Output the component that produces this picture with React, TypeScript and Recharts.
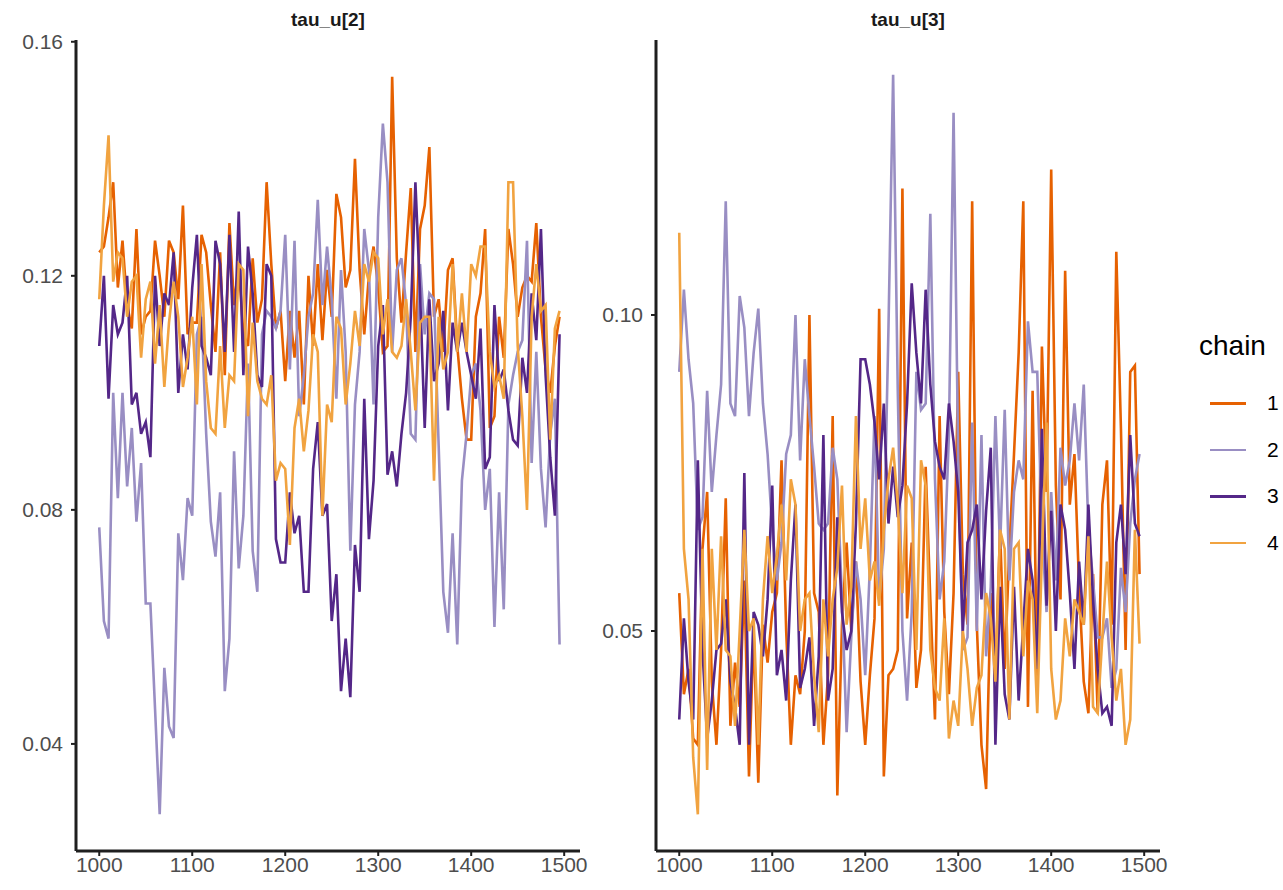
import React from "react";
import { LineChart, Line, XAxis, YAxis } from "recharts";

// iterations (thinned trace), shared by both panels
const iterations = [
  1000, 1005, 1010, 1015, 1020, 1025, 1030, 1035, 1040, 1045,
  1050, 1055, 1060, 1065, 1070, 1075, 1080, 1085, 1090, 1095,
  1100, 1105, 1110, 1115, 1120, 1125, 1130, 1135, 1140, 1145,
  1150, 1155, 1160, 1165, 1170, 1175, 1180, 1185, 1190, 1195,
  1200, 1205, 1210, 1215, 1220, 1225, 1230, 1235, 1240, 1245,
  1250, 1255, 1260, 1265, 1270, 1275, 1280, 1285, 1290, 1295,
  1300, 1305, 1310, 1315, 1320, 1325, 1330, 1335, 1340, 1345,
  1350, 1355, 1360, 1365, 1370, 1375, 1380, 1385, 1390, 1395,
  1400, 1405, 1410, 1415, 1420, 1425, 1430, 1435, 1440, 1445,
  1450, 1455, 1460, 1465, 1470, 1475, 1480, 1485, 1490, 1495,
];

// tau_u[2]
const tau2Chain1 = [
  0.124, 0.125, 0.130, 0.136, 0.118, 0.126, 0.115, 0.111, 0.128, 0.110,
  0.113, 0.114, 0.126, 0.120, 0.113, 0.126, 0.124, 0.116, 0.132, 0.110,
  0.112, 0.112, 0.127, 0.124, 0.115, 0.107, 0.124, 0.103, 0.129, 0.115,
  0.122, 0.110, 0.108, 0.123, 0.112, 0.116, 0.136, 0.122, 0.111, 0.114,
  0.102, 0.114, 0.106, 0.114, 0.098, 0.120, 0.108, 0.122, 0.109, 0.121,
  0.113, 0.134, 0.130, 0.118, 0.121, 0.140, 0.121, 0.110, 0.120, 0.125,
  0.118, 0.107, 0.108, 0.154, 0.123, 0.112, 0.124, 0.135, 0.107, 0.128,
  0.132, 0.142, 0.113, 0.116, 0.107, 0.121, 0.123, 0.108, 0.099, 0.092,
  0.092, 0.113, 0.117, 0.128, 0.094, 0.096, 0.113, 0.106, 0.128, 0.122,
  0.113, 0.118, 0.120, 0.119, 0.129, 0.113, 0.104, 0.100, 0.108, 0.113,
];
const tau2Chain2 = [
  0.077, 0.061, 0.058, 0.100, 0.082, 0.100, 0.084, 0.094, 0.078, 0.088,
  0.064, 0.064, 0.046, 0.028, 0.053, 0.043, 0.041, 0.076, 0.068, 0.082,
  0.079, 0.110, 0.113, 0.093, 0.078, 0.072, 0.083, 0.049, 0.058, 0.090,
  0.070, 0.079, 0.105, 0.073, 0.066, 0.110, 0.114, 0.113, 0.111, 0.114,
  0.127, 0.104, 0.126, 0.096, 0.103, 0.113, 0.117, 0.133, 0.115, 0.125,
  0.116, 0.099, 0.121, 0.107, 0.073, 0.098, 0.107, 0.128, 0.121, 0.098,
  0.130, 0.146, 0.136, 0.107, 0.121, 0.123, 0.115, 0.093, 0.092, 0.122,
  0.110, 0.117, 0.116, 0.091, 0.066, 0.059, 0.076, 0.057, 0.085, 0.093,
  0.103, 0.105, 0.097, 0.080, 0.087, 0.060, 0.083, 0.063, 0.098, 0.103,
  0.107, 0.109, 0.126, 0.088, 0.107, 0.087, 0.077, 0.093, 0.099, 0.057,
];
const tau2Chain3 = [
  0.108, 0.120, 0.099, 0.115, 0.110, 0.112, 0.120, 0.098, 0.100, 0.093,
  0.095, 0.089, 0.120, 0.108, 0.117, 0.115, 0.124, 0.100, 0.110, 0.104,
  0.118, 0.127, 0.108, 0.106, 0.103, 0.126, 0.122, 0.107, 0.127, 0.107,
  0.131, 0.103, 0.125, 0.117, 0.103, 0.101, 0.122, 0.120, 0.075, 0.071,
  0.071, 0.083, 0.076, 0.079, 0.066, 0.066, 0.087, 0.095, 0.079, 0.081,
  0.061, 0.069, 0.049, 0.058, 0.048, 0.074, 0.066, 0.099, 0.075, 0.085,
  0.108, 0.115, 0.086, 0.090, 0.084, 0.093, 0.100, 0.113, 0.136, 0.117,
  0.094, 0.116, 0.102, 0.105, 0.114, 0.097, 0.112, 0.107, 0.112, 0.107,
  0.103, 0.099, 0.111, 0.087, 0.089, 0.115, 0.102, 0.104, 0.097, 0.092,
  0.091, 0.106, 0.100, 0.117, 0.109, 0.128, 0.103, 0.089, 0.079, 0.110,
];
const tau2Chain4 = [
  0.116, 0.132, 0.144, 0.119, 0.124, 0.123, 0.113, 0.119, 0.120, 0.106,
  0.116, 0.119, 0.105, 0.115, 0.101, 0.112, 0.119, 0.113, 0.101, 0.106,
  0.113, 0.098, 0.122, 0.102, 0.094, 0.093, 0.108, 0.094, 0.103, 0.102,
  0.122, 0.121, 0.096, 0.112, 0.102, 0.099, 0.098, 0.103, 0.085, 0.088,
  0.087, 0.074, 0.094, 0.099, 0.090, 0.097, 0.110, 0.107, 0.079, 0.098,
  0.095, 0.113, 0.111, 0.098, 0.105, 0.114, 0.108, 0.122, 0.119, 0.124,
  0.123, 0.110, 0.116, 0.107, 0.106, 0.108, 0.116, 0.107, 0.097, 0.112,
  0.113, 0.113, 0.085, 0.113, 0.104, 0.107, 0.122, 0.107, 0.117, 0.107,
  0.122, 0.120, 0.125, 0.125, 0.107, 0.101, 0.103, 0.099, 0.136, 0.136,
  0.108, 0.096, 0.080, 0.113, 0.122, 0.114, 0.115, 0.092, 0.111, 0.114,
];

// tau_u[3]
const tau3Chain1 = [
  0.056, 0.040, 0.044, 0.033, 0.032, 0.063, 0.072, 0.042, 0.032, 0.047,
  0.071, 0.035, 0.045, 0.038, 0.058, 0.027, 0.050, 0.026, 0.051, 0.045,
  0.053, 0.056, 0.077, 0.050, 0.032, 0.043, 0.040, 0.050, 0.100, 0.056,
  0.053, 0.032, 0.043, 0.084, 0.024, 0.051, 0.064, 0.050, 0.061, 0.042,
  0.032, 0.043, 0.052, 0.101, 0.027, 0.043, 0.044, 0.047, 0.120, 0.052,
  0.064, 0.041, 0.047, 0.076, 0.055, 0.036, 0.084, 0.053, 0.040, 0.056,
  0.091, 0.059, 0.051, 0.118, 0.051, 0.032, 0.025, 0.056, 0.043, 0.066,
  0.044, 0.063, 0.078, 0.094, 0.118, 0.038, 0.088, 0.041, 0.095, 0.072,
  0.123, 0.073, 0.055, 0.107, 0.070, 0.078, 0.057, 0.042, 0.037, 0.059,
  0.037, 0.070, 0.077, 0.051, 0.110, 0.082, 0.047, 0.091, 0.092, 0.059,
];
const tau3Chain2 = [
  0.091, 0.104, 0.093, 0.086, 0.066, 0.068, 0.088, 0.072, 0.081, 0.089,
  0.118, 0.086, 0.084, 0.103, 0.098, 0.084, 0.094, 0.101, 0.086, 0.078,
  0.066, 0.058, 0.064, 0.078, 0.081, 0.100, 0.077, 0.093, 0.084, 0.076,
  0.067, 0.066, 0.067, 0.079, 0.074, 0.055, 0.034, 0.049, 0.061, 0.055,
  0.043, 0.060, 0.084, 0.055, 0.063, 0.098, 0.138, 0.088, 0.050, 0.039,
  0.053, 0.091, 0.085, 0.086, 0.116, 0.074, 0.055, 0.061, 0.081, 0.132,
  0.077, 0.047, 0.049, 0.083, 0.050, 0.081, 0.046, 0.057, 0.084, 0.063,
  0.085, 0.058, 0.072, 0.077, 0.074, 0.099, 0.091, 0.091, 0.066, 0.053,
  0.072, 0.058, 0.079, 0.073, 0.077, 0.086, 0.077, 0.089, 0.066, 0.058,
  0.049, 0.049, 0.052, 0.041, 0.044, 0.060, 0.053, 0.067, 0.074, 0.078,
];
const tau3Chain3 = [
  0.036, 0.052, 0.042, 0.036, 0.077, 0.047, 0.033, 0.039, 0.047, 0.048,
  0.055, 0.042, 0.038, 0.032, 0.075, 0.032, 0.053, 0.051, 0.046, 0.055,
  0.073, 0.043, 0.047, 0.039, 0.058, 0.070, 0.041, 0.044, 0.049, 0.035,
  0.046, 0.081, 0.039, 0.044, 0.068, 0.053, 0.047, 0.050, 0.067, 0.093,
  0.093, 0.089, 0.083, 0.074, 0.086, 0.067, 0.076, 0.068, 0.073, 0.086,
  0.105, 0.094, 0.086, 0.104, 0.089, 0.080, 0.076, 0.074, 0.086, 0.080,
  0.072, 0.050, 0.064, 0.066, 0.070, 0.055, 0.069, 0.079, 0.032, 0.057,
  0.040, 0.036, 0.057, 0.039, 0.051, 0.063, 0.058, 0.044, 0.082, 0.054,
  0.069, 0.050, 0.070, 0.066, 0.056, 0.044, 0.061, 0.051, 0.070, 0.055,
  0.044, 0.037, 0.038, 0.035, 0.064, 0.070, 0.059, 0.081, 0.067, 0.065,
];
const tau3Chain4 = [
  0.113, 0.063, 0.055, 0.030, 0.021, 0.063, 0.028, 0.063, 0.047, 0.065,
  0.047, 0.046, 0.035, 0.050, 0.066, 0.050, 0.052, 0.032, 0.055, 0.065,
  0.056, 0.062, 0.070, 0.058, 0.074, 0.070, 0.050, 0.055, 0.056, 0.043,
  0.034, 0.055, 0.046, 0.055, 0.060, 0.073, 0.051, 0.057, 0.084, 0.063,
  0.071, 0.058, 0.061, 0.054, 0.066, 0.074, 0.079, 0.070, 0.056, 0.073,
  0.071, 0.047, 0.077, 0.073, 0.047, 0.041, 0.039, 0.052, 0.033, 0.039,
  0.035, 0.050, 0.044, 0.035, 0.041, 0.043, 0.056, 0.052, 0.042, 0.066,
  0.063, 0.036, 0.063, 0.064, 0.046, 0.058, 0.055, 0.037, 0.062, 0.083,
  0.044, 0.036, 0.039, 0.052, 0.046, 0.055, 0.053, 0.051, 0.065, 0.038,
  0.037, 0.049, 0.061, 0.049, 0.039, 0.044, 0.032, 0.036, 0.066, 0.048,
];

const chains = ["1", "2", "3", "4"];
const chainColors = ["#E66101", "#998EC3", "#542788", "#F1A340"];

const xTicks = [1000, 1100, 1200, 1300, 1400, 1500];
const tau2Ticks = [0.04, 0.08, 0.12, 0.16];
const tau3Ticks = [0.05, 0.1];

const tau2Data = iterations.map((it, i) => ({
  iter: it,
  c1: tau2Chain1[i],
  c2: tau2Chain2[i],
  c3: tau2Chain3[i],
  c4: tau2Chain4[i],
}));
const tau3Data = iterations.map((it, i) => ({
  iter: it,
  c1: tau3Chain1[i],
  c2: tau3Chain2[i],
  c3: tau3Chain3[i],
  c4: tau3Chain4[i],
}));

const FONT = "'Liberation Sans', Arial, sans-serif";
const AXIS = "#1F1F1F";
const tickStyle = { fill: "#4D4D4D", fontSize: 21, fontFamily: FONT };

function ChainLegend() {
  return (
    <div
      style={{
        position: "absolute",
        left: 1199,
        top: 330,
        fontFamily: FONT,
        color: "#000",
      }}
    >
      <div style={{ fontSize: 28, lineHeight: "32px", marginBottom: 18 }}>
        chain
      </div>
      {chains.map((c, i) => (
        <div
          key={c}
          style={{ display: "flex", alignItems: "center", height: 46.5 }}
        >
          <div
            style={{
              width: 36,
              height: 2.5,
              background: chainColors[i],
              marginLeft: 11,
            }}
          />
          <span style={{ fontSize: 21, marginLeft: 21 }}>{c}</span>
        </div>
      ))}
    </div>
  );
}

function Panel({
  data,
  domain,
  ticks,
}: {
  data: any[];
  domain: [number, number];
  ticks: number[];
}) {
  return (
    <LineChart
      width={600}
      height={890}
      data={data}
      margin={{ top: 40, right: 20, bottom: 0, left: 0 }}
    >
      <XAxis
        type="number"
        dataKey="iter"
        domain={[975, 1517]}
        ticks={xTicks}
        allowDataOverflow
        height={39}
        tick={tickStyle}
        tickSize={5}
        tickMargin={1}
        axisLine={{ stroke: AXIS, strokeWidth: 3 }}
        tickLine={{ stroke: AXIS, strokeWidth: 2 }}
      />
      <YAxis
        type="number"
        domain={domain}
        ticks={ticks}
        allowDataOverflow
        width={76}
        tick={tickStyle}
        tickSize={5}
        tickMargin={8}
        tickFormatter={(v: number) => v.toFixed(2)}
        axisLine={{ stroke: AXIS, strokeWidth: 3 }}
        tickLine={{ stroke: AXIS, strokeWidth: 2 }}
      />
      {chains.map((c, i) => (
        <Line
          key={c}
          type="linear"
          dataKey={"c" + c}
          name={c}
          stroke={chainColors[i]}
          strokeWidth={2.6}
          dot={false}
          isAnimationActive={false}
        />
      ))}
    </LineChart>
  );
}

export default function App() {
  const titleStyle: React.CSSProperties = {
    position: "absolute",
    top: 9,
    width: 504,
    textAlign: "center",
    fontFamily: FONT,
    fontWeight: "bold",
    fontSize: 19,
    color: "#1A1A1A",
  };
  return (
    <div
      style={{
        position: "absolute",
        left: 0,
        top: 0,
        width: 1283,
        height: 890,
        background: "#fff",
      }}
    >
      <div style={{ ...titleStyle, left: 76 }}>tau_u[2]</div>
      <div style={{ ...titleStyle, left: 656 }}>tau_u[3]</div>
      <div style={{ position: "absolute", left: 0, top: 0 }}>
        <Panel data={tau2Data} domain={[0.0217, 0.1603]} ticks={tau2Ticks} />
      </div>
      <div style={{ position: "absolute", left: 580, top: 0 }}>
        <Panel data={tau3Data} domain={[0.0152, 0.1435]} ticks={tau3Ticks} />
      </div>
      <ChainLegend />
    </div>
  );
}
